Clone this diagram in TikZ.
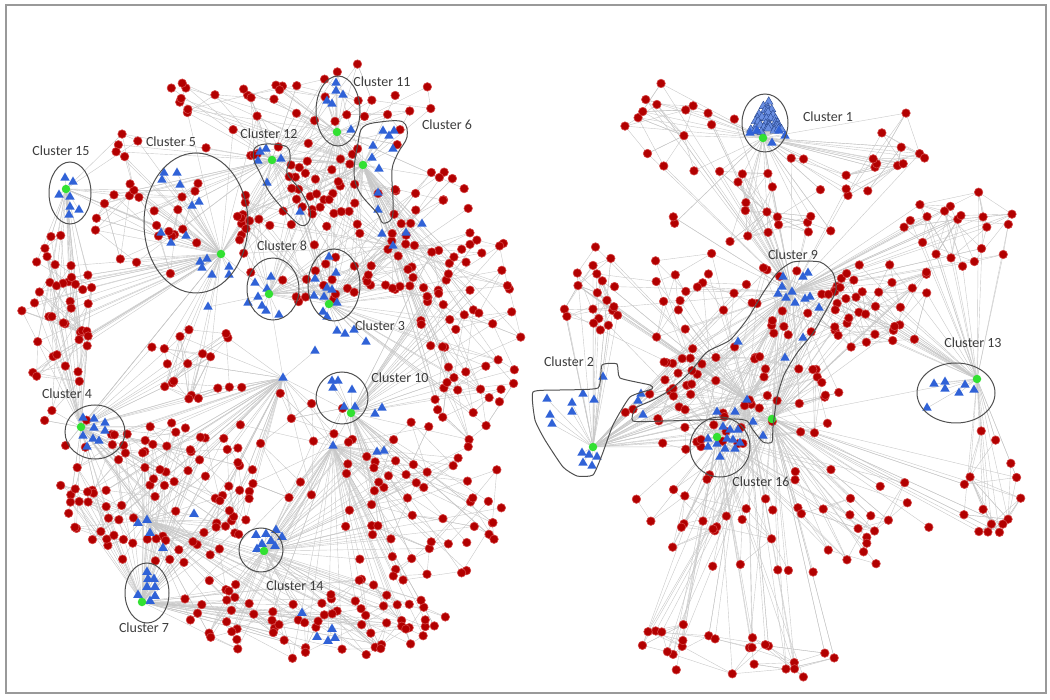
\documentclass[tikz,border=0pt]{standalone}
\usepackage{fontspec}
\setmainfont{Carlito}
\usetikzlibrary{shapes.geometric,positioning}
\newcount\dotno

\definecolor{dotred}{RGB}{178,0,0}
\definecolor{dotrim}{RGB}{212,70,70}
\definecolor{triblue}{RGB}{48,98,215}
\definecolor{pyrblue}{RGB}{105,142,226}
\definecolor{hubgreen}{RGB}{50,225,50}
\definecolor{edgegray}{RGB}{200,200,200}
\definecolor{ringgray}{RGB}{80,80,80}
\definecolor{labelgray}{RGB}{60,60,60}

\tikzset{
  reddot/.style={circle, fill=dotred, draw=dotrim, line width=0.6pt, minimum size=8.5pt, inner sep=0pt},
  tri/.style={regular polygon, regular polygon sides=3, fill=triblue, minimum size=11pt, inner sep=0pt},
  pyr/.style={tri, fill=pyrblue, draw=triblue!60!black, line width=0.3pt, minimum size=10pt},
  hub/.style={circle, fill=hubgreen, minimum size=8.5pt, inner sep=0pt},
  link/.style={draw=edgegray, line width=0.4pt},
  ring/.style={draw=ringgray, line width=1pt},
  clabel/.style={text=labelgray, font=\fontsize{14}{16}\selectfont, inner sep=0pt},
  frame/.style={draw=black!40, line width=1.5pt}
}

\pgfmathdeclarerandomlist{top}{{c11}{c12}{c6}{c5}}
\pgfmathdeclarerandomlist{upper}{{c12}{c6}{c3}{c8}{hd}{c11}}
\pgfmathdeclarerandomlist{upleft}{{c5}{c15}{c12}}
\pgfmathdeclarerandomlist{rflank}{{c3}{c10}{hd}{c6}}
\pgfmathdeclarerandomlist{lflank}{{c15}{c4}{c5}}
\pgfmathdeclarerandomlist{inner}{{c5}{c4}{ha}}
\pgfmathdeclarerandomlist{lowleft}{{c4}{hc}{c7}{ha}}
\pgfmathdeclarerandomlist{bottom}{{c7}{c14}{hc}{hb}}
\pgfmathdeclarerandomlist{lowright}{{c10}{hb}{c14}}
\pgfmathdeclarerandomlist{middle}{{ha}{hb}{c14}}
\pgfmathdeclarerandomlist{crown}{{c1}{h9}}
\pgfmathdeclarerandomlist{arc}{{h9}{c13}}
\pgfmathdeclarerandomlist{core}{{h9}{c16}{hr}{c2}}
\pgfmathdeclarerandomlist{east}{{h9}{c9}{c13}}
\pgfmathdeclarerandomlist{south}{{c16}{c9}{hr}}
\pgfmathdeclarerandomlist{farright}{{c13}{c9}}
\pgfmathdeclarerandomlist{west}{{c2}{hr}}

% members of each cluster
\def\members{
  15/{65/178,73/182,59/195,70/197,70/207,79/210,69/215},
  5/{164/173,177/173,162/180,180/185,192/206,199/202,161/233,171/243,186/236,200/262,207/259,202/268,212/275,229/267,229/275},
  12/{260/152,266/149,258/161,281/159,267/183,300/212},
  11/{336/83,336/91,343/95,327/101,332/104,351/130},
  6/{383/131,394/131,389/136,373/146,393/149,372/158,379/169,378/193,378/210},
  8/{271/277,255/283,267/289,258/297,248/303,262/306,266/311,279/315},
  3/{329/257,336/273,315/279,327/288,332/290,314/296,324/297,337/303,323/312,327/317},
  10/{332/381,338/381,333/388,352/390,344/407,355/407},
  4/{83/418,94/419,105/423,94/428,105/431,83/436,93/439,99/441,87/447},
  7/{147/572,148/579,154/579,147/587,155/587,138/595,155/596,150/601},
  14/{256/535,266/534,276/530,282/537,271/541,262/544,275/546,257/549},
  13/{934/384,945/382,945/389,965/385,959/393,974/390,927/408},
  2/{603/377,583/394,594/400,547/399,572/403,572/412,550/415,552/424,641/394,638/401,643/415,582/453,589/455,597/457,583/463,592/466},
  16/{723/427,730/430,738/430,708/439,717/444,727/439,733/440,708/447,725/449,735/449,740/443,720/457},
  9/{783/277,803/277,808/273,782/287,778/294,786/298,795/303,805/299,810/297,819/308,803/338,785/358,738/342,717/412,735/412,753/422,763/436},
  1/{750/133,757/131,779/131,785/136,772/143}}
\def\loose{422/224,382/234,406/233,208/307,337/331,345/334,354/330,366/342,315/351,
  375/414,382/408,377/452,384/451,194/514,138/523,150/533,163/548,302/613,332/629,317/637,328/641,335/638}
% spots kept free of red nodes (labels, cluster 1, cluster 13, cluster 2)
\def\keepout{798/106/860/130, 36/383/100/406, 728/470/794/494, 538/350/602/374, 348/314/412/338,
  141/130/202/154, 416/113/479/137, 113/616/177/640, 250/234/314/258, 761/243/825/267,
  366/366/434/390, 348/70/416/94, 235/122/303/146, 938/331/1008/355, 260/574/330/598,
  26/139/96/163, 738/90/792/157, 913/360/1000/427, 536/388/612/480}

\begin{document}
\begin{tikzpicture}[x=1pt, y=-1pt]
\useasboundingbox (0,0) rectangle (1050,700);
\draw[frame] (6,5) rectangle (1046,693);

% cluster centres and hub triangles
\foreach \cl/\hx/\hy in {1/763/138, 2/593/447, 3/329/304, 4/81/427, 5/221/254, 6/363/165,
  7/142/602, 8/269/294, 9/772/419, 10/351/413, 11/337/132, 12/272/160, 13/977/379,
  14/264/551, 15/66/189, 16/717/437}
  \coordinate (c\cl) at (\hx,\hy);
\foreach \h/\hx/\hy in {ha/283/378, hb/333/446, hc/147/520, hd/393/246, h9/792/292, hr/747/400}
  \coordinate (\h) at (\hx,\hy);

% links inside clusters
\foreach \cl/\pts in \members {
  \foreach [count=\k] \tx/\ty in \pts {
    \coordinate (t\cl-\k) at (\tx,\ty);
    \draw[link] (t\cl-\k) -- (c\cl);
  }
}
\pgfmathsetseed{77}
\foreach \row in {0,...,7}
  \foreach \col in {0,...,\row} {
    \coordinate (p\row-\col) at ({767-2.2*\row+4.4*\col+2.5*rand}, {102+4*\row+2*rand});
    \draw[link] (p\row-\col) -- (c1);
  }
\foreach [count=\k] \tx/\ty in \loose
  \coordinate (f\k) at (\tx,\ty);
\foreach \a/\b in {f1/hd,f2/hd,f3/hd,f4/c8,f5/c3,f6/c3,f7/c3,f8/c3,f9/ha,f10/c10,f11/c10,f12/hb,f13/hb,
  f14/hc,f15/hc,f16/hc,f17/hc,f18/c14,f19/f21,f20/f21,f22/f21,f21/hb,
  c5/c8,c8/c3,c3/hd,c12/c6,c6/c11,ha/c8,ha/c10,ha/c4,hb/c10,hb/c14,hc/c4,hc/c7,hc/c14,
  c9/c16,c16/c2,h9/c9,c1/h9,hr/c16,c13/c9,hr/c2}
  \draw[link] (\a) -- (\b);

% red nodes, scattered by region, with their links
\pgfmathsetseed{4242}
\foreach \bx/\by/\brx/\bry/\bn/\bl in {
  300/110/150/50/50/top, 360/230/130/85/115/upper, 150/200/60/80/30/upleft,
  470/330/55/110/50/rflank, 60/340/45/110/50/lflank, 190/360/60/40/18/inner,
  160/490/100/75/95/lowleft, 300/615/150/45/75/bottom, 420/500/85/85/55/lowright,
  280/440/80/60/15/middle,
  680/130/60/50/15/crown, 860/150/70/50/18/crown, 760/210/90/45/20/crown,
  960/230/60/40/20/arc, 720/300/150/50/45/core, 730/400/110/55/65/core,
  880/310/60/60/30/east, 790/520/170/55/55/south, 990/480/35/55/15/farright,
  730/652/110/35/25/south, 590/290/50/50/15/west}{
  \foreach \k in {1,...,\bn}{
    \pgfmathsetmacro\ang{360*rnd}
    \pgfmathsetmacro\rr{sqrt(rnd)}
    \pgfmathsetmacro\px{\bx+\brx*\rr*cos(\ang)}
    \pgfmathsetmacro\py{\by+\bry*\rr*sin(\ang)}
    \gdef\okflag{1}
    \foreach \xa/\ya/\xb/\yb in \keepout {
      \pgfmathparse{(\px>\xa)&&(\px<\xb)&&(\py>\ya)&&(\py<\yb)}
      \ifnum\pgfmathresult=1 \gdef\okflag{0}\fi
    }
    \ifnum\okflag=1
      \global\advance\dotno by 1
      \expandafter\xdef\csname dotx\the\dotno\endcsname{\px}
      \expandafter\xdef\csname doty\the\dotno\endcsname{\py}
      \coordinate (r\the\dotno) at (\px,\py);
      \pgfmathrandomitem{\hubp}{\bl}
      \draw[link] (r\the\dotno) -- (\hubp);
      \pgfmathparse{rnd<0.45}
      \ifnum\pgfmathresult=1
        \pgfmathrandomitem{\hubq}{\bl}
        \draw[link] (r\the\dotno) -- (\hubq);
      \fi
      \ifnum\k>1
        \foreach \try in {1,2,3} {
          \pgfmathtruncatemacro\back{1+floor(rnd*min(\k-1,12))}
          \pgfmathtruncatemacro\j{max(1,\the\dotno-\back)}
          \edef\qx{\csname dotx\j\endcsname}
          \edef\qy{\csname doty\j\endcsname}
          \pgfmathsetmacro\dd{veclen(\px-\qx,\py-\qy)}
          \ifdim\dd pt<65pt
            \draw[link] (r\the\dotno) -- (r\j);
          \fi
        }
      \fi
    \fi
  }
}
\xdef\ndots{\the\dotno}

% shapes on top of the links
\foreach \i in {1,...,\ndots}
  \node[reddot] (n\i) at (r\i) {};
\foreach \row in {0,...,7}
  \foreach \col in {0,...,\row}
    \node[pyr] (P\row-\col) at (p\row-\col) {};
\foreach \cl/\pts in \members {
  \foreach [count=\k] \tx/\ty in \pts
    \node[tri] (T\cl-\k) at (t\cl-\k) {};
}
\foreach [count=\k] \tx/\ty in \loose
  \node[tri] (F\k) at (f\k) {};
\foreach \h in {ha,hb,hc,hd,h9,hr}
  \node[tri] (H\h) at (\h) {};
\foreach \cl in {1,...,16}
  \node[hub] (g\cl) at (c\cl) {};

% outlines
\draw[ring] (765,123) ellipse (23 and 29);
\draw[ring] (95,432) ellipse (30 and 27);
\draw[ring] (196,223) ellipse (52 and 70);
\draw[ring] (147,593) ellipse (22 and 30);
\draw[ring] (273,289) ellipse (26 and 31);
\draw[ring] (334,285) ellipse (26 and 36);
\draw[ring] (342,398) ellipse (26 and 26);
\draw[ring] (338,111) ellipse (22 and 35);
\draw[ring] (956,393) ellipse (39 and 30);
\draw[ring] (261,550) ellipse (22 and 22);
\draw[ring] (70,193) ellipse (21 and 31);
\draw[ring] (720,447) ellipse (30 and 30);
\draw[ring] plot[smooth cycle, tension=0.6] coordinates {(255,148) (267,144) (287,147) (290,160) (287,173)
  (300,190) (310,210) (308,223) (300,225) (287,213) (270,193) (260,173) (254,160)};
\draw[ring] plot[smooth cycle, tension=0.6] coordinates {(363,127) (380,122) (403,122) (407,137) (398,153)
  (392,170) (393,200) (392,218) (383,223) (377,213) (360,193) (354,173) (358,143)};
\draw[ring] plot[smooth cycle, tension=0.3] coordinates {(533,392) (560,390) (598,388) (602,365) (617,364)
  (620,378) (650,385) (652,389) (630,397) (613,425) (602,455) (593,475) (577,476) (563,467) (545,440) (535,420)};
\draw[ring] plot[smooth cycle, tension=0.4] coordinates {(633,421) (636,408) (653,400) (670,390) (690,372)
  (707,352) (730,340) (748,318) (763,293) (777,273) (793,262) (820,262) (833,273) (836,290) (828,307)
  (813,333) (797,353) (784,375) (777,398) (773,427) (772,442) (763,442) (753,430) (747,421) (735,419)
  (700,420) (663,421)};

% labels
\node[clabel] (lab1) at (828,117) {Cluster 1};
\node[clabel] (lab2) at (569,362) {Cluster 2};
\node[clabel] (lab3) at (380,326) {Cluster 3};
\node[clabel] (lab4) at (67,394) {Cluster 4};
\node[clabel] (lab5) at (171,142) {Cluster 5};
\node[clabel] (lab6) at (447,125) {Cluster 6};
\node[clabel] (lab7) at (144,628) {Cluster 7};
\node[clabel] (lab8) at (282,246) {Cluster 8};
\node[clabel] (lab9) at (793,255) {Cluster 9};
\node[clabel] (lab10) at (400,378) {Cluster 10};
\node[clabel] (lab11) at (382,82) {Cluster 11};
\node[clabel] (lab12) at (269,134) {Cluster 12};
\node[clabel] (lab13) at (973,343) {Cluster 13};
\node[clabel] (lab14) at (295,586) {Cluster 14};
\node[clabel] (lab15) at (61,151) {Cluster 15};
\node[clabel] (lab16) at (761,482) {Cluster 16};
\end{tikzpicture}
\end{document}
